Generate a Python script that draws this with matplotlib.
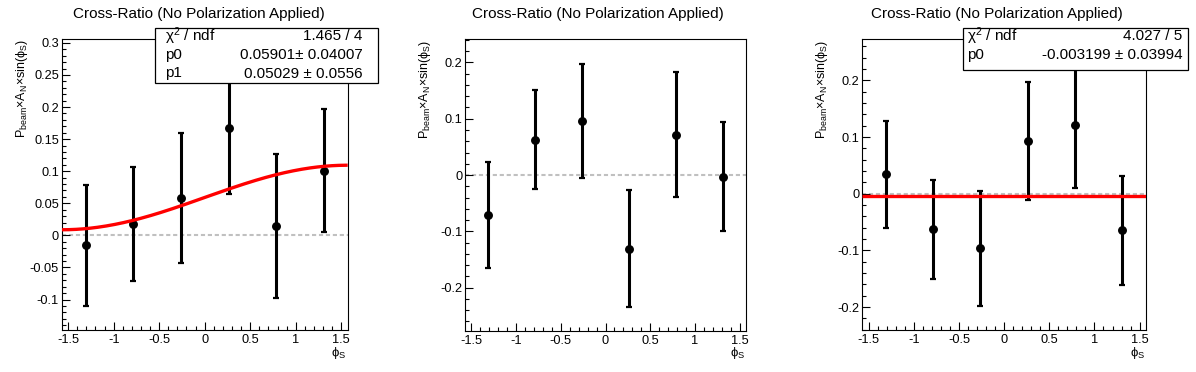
import numpy as np
import matplotlib
matplotlib.use("Agg")
import matplotlib.pyplot as plt
from matplotlib.patches import Rectangle
from matplotlib.ticker import MultipleLocator, FormatStrFormatter

plt.rcParams['font.family'] = ['Liberation Sans', 'DejaVu Sans']
plt.rcParams['mathtext.fontset'] = 'custom'
plt.rcParams['mathtext.rm'] = 'Liberation Sans'
plt.rcParams['mathtext.it'] = 'Liberation Sans:italic'
plt.rcParams['axes.unicode_minus'] = False
plt.rcParams['lines.scale_dashes'] = False

# ---------------- data ----------------
phi_s = [-1.309, -0.785, -0.262, 0.262, 0.785, 1.309]

y1 = [-0.0155, 0.018, 0.0586, 0.1667, 0.015, 0.101]
e1 = [0.0945, 0.089, 0.101, 0.102, 0.112, 0.096]

y2 = [-0.0705, 0.0628, 0.0966, -0.131, 0.0717, -0.003]
e2 = [0.094, 0.088, 0.101, 0.104, 0.111, 0.0966]

y3 = [0.0341, -0.0629, -0.0965, 0.0923, 0.1206, -0.0647]
e3 = [0.095, 0.0875, 0.1017, 0.104, 0.1106, 0.096]

fit1_p0, fit1_p1 = 0.05901, 0.05029
fit3_p0 = -0.003199

title = "Cross-Ratio (No Polarization Applied)"
ylabel = r"$\mathregular{P_{beam}{\times}A_{N}{\times}sin(\phi_{S})}$"
xlabel = r"$\mathregular{\phi_{S}}$"

stats1 = [(r"$\mathregular{\chi^{2}}$ / ndf", "1.465 / 4"),
          ("p0", "0.05901" + "\u00b1" + " 0.04007"),
          ("p1", "0.05029 \u00b1 0.0556")]
stats3 = [(r"$\mathregular{\chi^{2}}$ / ndf", "4.027 / 5"),
          ("p0", "-0.003199 \u00b1 0.03994")]

# ---------------- layout ----------------
W, H = 1196, 372
fig = plt.figure(figsize=(W / 100, H / 100), dpi=100)

def fx(x):
    return x / W

def fy(y):
    return 1 - y / H

panels = [
    dict(rect=(61.7, 347.7, 39.0, 330.0), ylim=(-0.1475, 0.306), major=0.05, minor=0.01,
         y=y1, e=e1, pad_center=199.3),
    dict(rect=(465.0, 746.0, 39.3, 330.5), ylim=(-0.276, 0.241), major=0.1, minor=0.02,
         y=y2, e=e2, pad_center=597.5),
    dict(rect=(862.3, 1146.0, 39.3, 330.0), ylim=(-0.2405, 0.2725), major=0.1, minor=0.02,
         y=y3, e=e3, pad_center=996.5),
]

xlim = (-np.pi / 2, np.pi / 2)
axes = []
for i, p in enumerate(panels):
    l, r, t, b = p['rect']
    ax = fig.add_axes([fx(l), fy(b), (r - l) / W, (b - t) / H])
    axes.append(ax)
    ax.set_xlim(*xlim)
    ax.set_ylim(*p['ylim'])
    ax.xaxis.set_major_locator(MultipleLocator(0.5))
    ax.xaxis.set_minor_locator(MultipleLocator(0.1))
    ax.yaxis.set_major_locator(MultipleLocator(p['major']))
    ax.yaxis.set_minor_locator(MultipleLocator(p['minor']))
    ax.xaxis.set_major_formatter(FormatStrFormatter('%g'))
    ax.yaxis.set_major_formatter(FormatStrFormatter('%g'))
    ax.tick_params(which='both', direction='in', top=False, right=False,
                   width=0.8, labelsize=9.2, colors='black')
    ax.tick_params(which='major', length=6.0)
    ax.tick_params(which='minor', length=3.0)
    ax.tick_params(axis='y', pad=2)
    ax.tick_params(axis='x', pad=3)
    for s in ax.spines.values():
        s.set_linewidth(0.8)

    # zero reference line
    ax.axhline(0, color='#c0c0c0', lw=1.5, dashes=(3, 2), zorder=1)

    ax.errorbar(phi_s, p['y'], yerr=p['e'], fmt='o', color='black', ms=5.4,
                elinewidth=2.2, capsize=2.2, capthick=1.6, zorder=3)

    # titles / labels
    fig.text(fx(p['pad_center']), fy(14), title, ha='center', va='center', fontsize=11)
    fig.text(fx(l - 40), fy(t), ylabel, rotation=90, ha='center', va='top', fontsize=9)
    fig.text(fx(r - 1), fy(345), xlabel, ha='right', va='top', fontsize=9.5)

# fit curves
xf = np.linspace(xlim[0], xlim[1], 200)
axes[0].plot(xf, fit1_p0 + fit1_p1 * np.sin(xf), color='#ff0000', lw=2.4, zorder=4,
             solid_capstyle='butt')
axes[2].plot(xf, np.full_like(xf, fit3_p0), color='#ff0000', lw=2.4, zorder=4,
             solid_capstyle='butt')

def stats_box(x0, x1, y0, y1, rows, tx_left, tx_right, row_y):
    rect = Rectangle((fx(x0), fy(y1)), (x1 - x0) / W, (y1 - y0) / H,
                     transform=fig.transFigure, facecolor='white', edgecolor='black',
                     lw=0.9, zorder=10)
    fig.add_artist(rect)
    for (lab, val), yy in zip(rows, row_y):
        t1 = fig.text(fx(tx_left), fy(yy), lab, ha='left', va='center', fontsize=11)
        t2 = fig.text(fx(tx_right), fy(yy), val, ha='right', va='center', fontsize=11)
        t1.set_zorder(11)
        t2.set_zorder(11)

stats_box(155.0, 378.3, 28.3, 83.3, stats1, 165.0, 362.7, [36.5, 55.0, 73.5])
stats_box(962.7, 1187.7, 28.3, 70.0, stats3, 966.7, 1182.7, [36.5, 55.0])

fig.savefig("out.png", dpi=100)
